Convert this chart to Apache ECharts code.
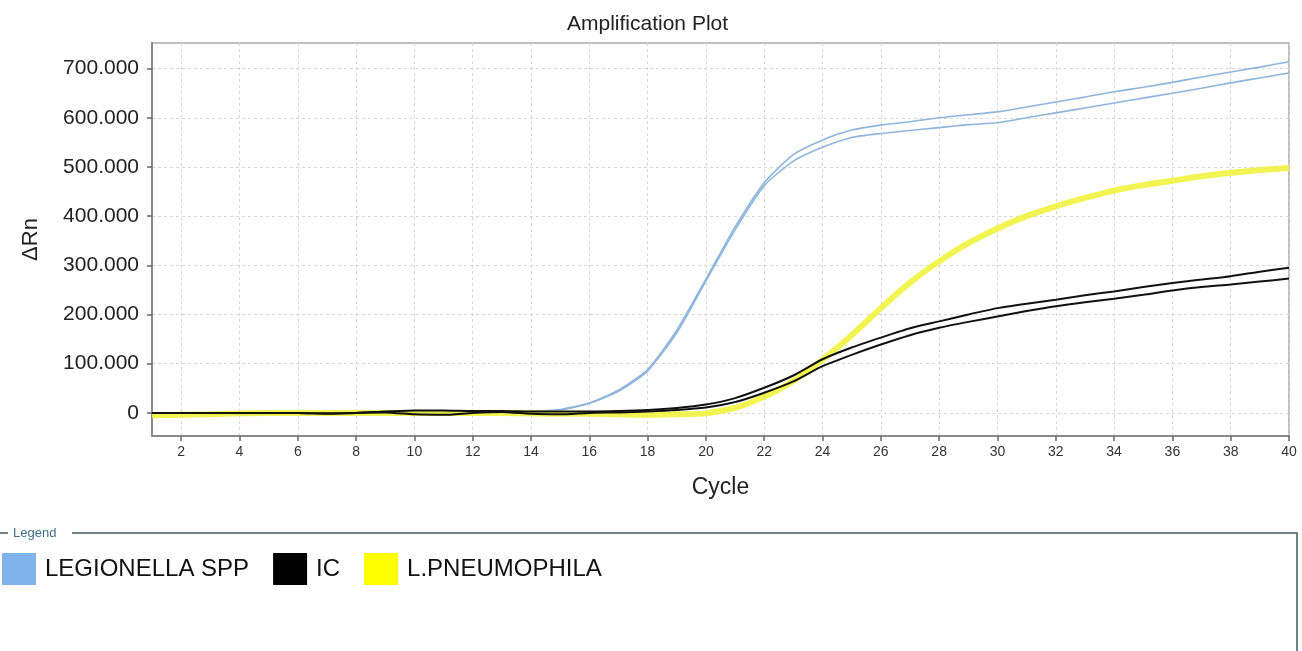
<!DOCTYPE html>
<html><head><meta charset="utf-8">
<script src="https://cdn.jsdelivr.net/npm/echarts@6/dist/echarts.min.js"></script>
<style>html,body{margin:0;padding:0;background:#fff}#c{width:1302px;height:651px}</style>
</head><body><div id="c"></div>
<script>
const cycles = [1,2,3,4,5,6,7,8,9,10,11,12,13,14,15,16,17,18,19,20,21,22,23,24,25,26,27,28,29,30,31,32,33,34,35,36,37,38,39,40];
const xTicks = [2,4,6,8,10,12,14,16,18,20,22,24,26,28,30,32,34,36,38,40];
const yTicks = [0,100,200,300,400,500,600,700];
const yTickLabels = ['0','100.000','200.000','300.000','400.000','500.000','600.000','700.000'];
const seriesNames = ['LEGIONELLA SPP','IC','L.PNEUMOPHILA'];
// values in thousands of ΔRn units (label 100.000 = 100)
const legionellaA = [0,0,-1,-2,-1,0,0,1,1,1,1,2,2,3,7,20,46,88,168,272,378,468,525,555,575,585,592,600,606,612,622,632,642,653,662,672,683,693,703,714];
const legionellaB = [0,0,-1,-3,-2,0,0,1,1,1,1,2,2,2,6,19,44,85,163,268,372,462,512,540,560,568,574,580,586,590,600,610,620,630,640,650,660,671,681,691];
const icA = [0,0,0,0,0,0,-1,0,3,5,5,4,4,3,3,3,4,6,10,17,30,51,76,109,133,153,172,186,200,213,222,230,239,247,256,264,271,278,287,295];
const icB = [0,0,0,0,0,0,-2,0,1,-3,-4,0,2,-2,-3,0,1,3,6,11,22,41,64,95,118,139,158,173,185,196,207,217,225,232,240,249,256,261,267,273];
const pneumophila = [-5,-4,-3,-1,0,0,0,0,0,0,0,0,0,-1,-2,-2,-3,-4,-3,-1,10,33,65,108,158,213,265,308,345,375,400,420,437,452,463,472,481,488,494,498];

const pairs = arr => cycles.map((c, i) => [c, arr[i]]);
const FONT = "'Liberation Sans', Arial, sans-serif";

const chart = echarts.init(document.getElementById('c'), null, {renderer: 'canvas'});
chart.setOption({
  animation: false,
  backgroundColor: '#fff',
  textStyle: {fontFamily: FONT},
  title: {
    text: 'Amplification Plot', left: 562, top: 9,
    textStyle: {fontSize: 21, fontWeight: 'normal', color: '#222', fontFamily: FONT}
  },
  grid: {left: 152, right: 13, top: 43, bottom: 215, show: true, borderColor: '#aaa', borderWidth: 1.5},
  xAxis: {
    type: 'value', min: 1, max: 40,
    name: 'Cycle', nameLocation: 'middle', nameGap: 40,
    nameTextStyle: {fontSize: 23, color: '#222', fontFamily: FONT},
    axisLine: {onZero: false, lineStyle: {color: '#8a8a8a', width: 2}},
    axisTick: {show: true, customValues: xTicks, length: 5, lineStyle: {color: '#666', width: 1.5}},
    axisLabel: {customValues: xTicks, fontSize: 14, color: '#333', margin: 9, fontFamily: FONT},
    splitLine: {show: true, lineStyle: {type: [3, 3], color: '#d6d6d6', width: 1}}
  },
  yAxis: {
    type: 'value', min: -47, max: 752,
    name: 'ΔRn', nameLocation: 'middle', nameGap: 110, nameRotate: 90,
    nameTextStyle: {fontSize: 22, color: '#222', fontFamily: FONT},
    axisLine: {show: true, onZero: false, lineStyle: {color: '#8a8a8a', width: 2}},
    axisTick: {show: true, customValues: yTicks, length: 5, lineStyle: {color: '#666', width: 1.5}},
    axisLabel: {
      customValues: yTicks, fontSize: 21, color: '#222', margin: 13, fontFamily: FONT,
      formatter: v => { const i = yTicks.indexOf(v); return i >= 0 ? yTickLabels[i] : ''; }
    },
    splitLine: {show: true, lineStyle: {type: [3, 3], color: '#d6d6d6', width: 1}}
  },
  legend: {
    left: 2, top: 553, padding: 0, icon: 'rect', itemWidth: 34, itemHeight: 32, itemGap: 24,
    selectedMode: false,
    textStyle: {fontSize: 24, color: '#111', fontFamily: FONT, padding: [0, 0, 0, 4]},
    data: [
      {name: seriesNames[0], itemStyle: {color: '#80b3ea'}},
      {name: seriesNames[1], itemStyle: {color: '#000'}},
      {name: seriesNames[2], itemStyle: {color: '#ffff00'}}
    ]
  },
  graphic: [
    {type: 'rect', shape: {x: -2, y: 533, width: 1299, height: 140}, style: {fill: 'none', stroke: '#3f5c5e', lineWidth: 1.5}, silent: true, z: -1},
    {type: 'rect', shape: {x: 8, y: 524, width: 64, height: 18}, style: {fill: '#fff'}, silent: true, z: 0},
    {type: 'text', x: 13, y: 533, style: {text: 'Legend', fontSize: 13, fill: '#3d6f8f', fontFamily: FONT, verticalAlign: 'middle'}, silent: true, z: 1}
  ],
  series: [
    {name: seriesNames[0], type: 'line', data: pairs(legionellaA), symbol: 'none', smooth: 0.2, lineStyle: {color: '#8fb5dd', width: 1.6}, itemStyle: {color: '#80b3ea'}},
    {name: seriesNames[0], type: 'line', data: pairs(legionellaB), symbol: 'none', smooth: 0.2, lineStyle: {color: '#8fb5dd', width: 1.6}, itemStyle: {color: '#80b3ea'}},
    {name: seriesNames[2], type: 'line', data: pairs(pneumophila), symbol: 'none', smooth: 0.2, lineStyle: {color: 'rgba(240,242,50,0.85)', width: 6}, itemStyle: {color: '#ffff00'}},
    {name: seriesNames[1], type: 'line', data: pairs(icA), symbol: 'none', smooth: 0.2, lineStyle: {color: '#111', width: 2}, itemStyle: {color: '#000'}},
    {name: seriesNames[1], type: 'line', data: pairs(icB), symbol: 'none', smooth: 0.2, lineStyle: {color: '#111', width: 2}, itemStyle: {color: '#000'}}
  ]
});
</script>
</body></html>
